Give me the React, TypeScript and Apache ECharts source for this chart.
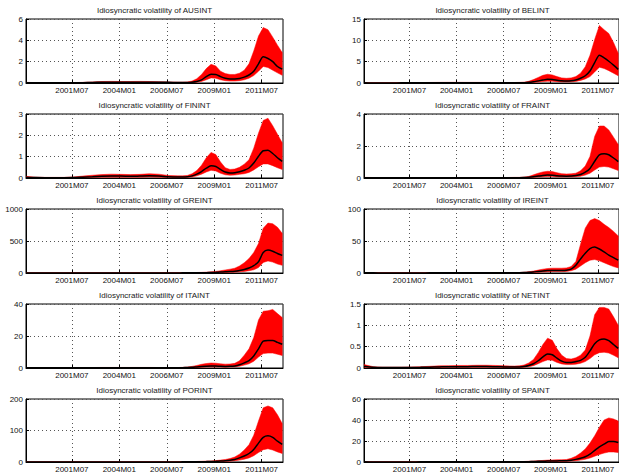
import React, { useEffect, useRef } from "react";
import * as echarts from "echarts";

// Sample dates (month labels) shared by every panel
const periods = [
  "1999M02", "1999M08", "2000M02", "2000M08", "2001M02", "2001M08", "2002M02", "2002M08",
  "2003M02", "2003M08", "2004M02", "2004M08", "2005M02", "2005M08", "2006M02", "2006M08",
  "2007M02", "2007M05", "2007M08", "2007M11", "2008M02", "2008M05", "2008M08", "2008M11",
  "2009M02", "2009M05", "2009M08", "2009M11", "2010M02", "2010M05", "2010M08", "2010M11",
  "2011M02", "2011M05", "2011M08", "2011M11", "2012M02", "2012M05", "2012M08",
];
const tickLabels = ["2001M07", "2004M01", "2006M07", "2009M01", "2011M07"];
const axisStart = "1999M02";
const axisEndMonths = 163.5;

const countries = ["AUSINT", "BELINT", "FININT", "FRAINT", "GREINT", "IREINT", "ITAINT", "NETINT", "PORINT", "SPAINT"];
const yMax = [6, 15, 3, 4, 1000, 100, 40, 1.5, 200, 60];
const yStep = [2, 5, 1, 2, 500, 50, 20, 0.5, 100, 20];

// AUS
const ausHi = [0.06,0.04,0.03,0.03,0.03,0.04,0.06,0.1,0.14,0.15,0.14,0.14,0.15,0.14,0.12,0.1,0.08, 0.08,0.1,0.18,0.4,0.8,1.35,1.75,1.6,1.1,0.88,0.8,0.8,0.92,1.2,1.8,3.0,4.4,5.2,5.0,4.3,3.55,2.85];
const ausMed = [0.03,0.02,0.02,0.02,0.02,0.02,0.03,0.05,0.07,0.08,0.08,0.08,0.08,0.08,0.07,0.06,0.05, 0.04,0.05,0.08,0.15,0.3,0.6,0.82,0.8,0.6,0.45,0.38,0.38,0.42,0.55,0.75,1.1,1.8,2.45,2.3,2.0,1.55,1.3];
const ausLo = [0.01,0.01,0.01,0.01,0.01,0.01,0.01,0.02,0.03,0.03,0.03,0.03,0.03,0.03,0.03,0.02,0.02, 0.02,0.03,0.04,0.08,0.15,0.3,0.48,0.45,0.3,0.22,0.18,0.18,0.22,0.3,0.45,0.7,1.1,1.55,1.45,1.2,0.95,0.72];
// BEL
const belHi = [0.08,0.05,0.05,0.05,0.06,0.08,0.1,0.13,0.15,0.16,0.16,0.15,0.15,0.14,0.13,0.12,0.12, 0.15,0.2,0.4,0.8,1.3,1.8,2.05,1.9,1.5,1.2,1.1,1.2,1.5,2.3,3.8,6.5,10.2,13.5,12.5,11.6,9.5,7.0];
const belMed = [0.04,0.02,0.02,0.02,0.03,0.04,0.05,0.06,0.07,0.08,0.08,0.07,0.07,0.07,0.06,0.06,0.05, 0.05,0.08,0.15,0.3,0.5,0.7,0.85,0.8,0.65,0.5,0.45,0.5,0.7,1.1,1.7,2.8,4.8,6.5,5.9,5.1,4.2,3.2];
const belLo = [0.01,0.01,0.01,0.01,0.01,0.01,0.02,0.02,0.03,0.03,0.03,0.03,0.03,0.03,0.02,0.02,0.02, 0.02,0.03,0.06,0.12,0.22,0.35,0.42,0.4,0.32,0.26,0.24,0.27,0.38,0.6,0.95,1.5,2.6,3.7,3.4,2.9,2.3,1.7];
// FIN
const finHi = [0.08,0.04,0.03,0.03,0.03,0.05,0.09,0.13,0.16,0.18,0.17,0.16,0.17,0.2,0.18,0.12,0.1, 0.1,0.12,0.2,0.35,0.6,0.95,1.2,1.1,0.75,0.48,0.4,0.42,0.5,0.65,0.85,1.4,2.1,2.7,2.8,2.45,2.05,1.65];
const finMed = [0.04,0.02,0.015,0.015,0.015,0.02,0.04,0.06,0.08,0.09,0.09,0.08,0.09,0.1,0.09,0.06,0.05, 0.05,0.06,0.1,0.18,0.3,0.46,0.57,0.54,0.4,0.28,0.24,0.25,0.29,0.36,0.47,0.7,1.02,1.28,1.3,1.15,0.95,0.78];
const finLo = [0.015,0.01,0.005,0.005,0.005,0.01,0.02,0.03,0.04,0.04,0.04,0.04,0.04,0.05,0.04,0.03,0.025, 0.025,0.03,0.05,0.1,0.18,0.28,0.36,0.33,0.22,0.15,0.13,0.14,0.17,0.2,0.26,0.38,0.53,0.66,0.66,0.58,0.48,0.4];
// FRA
const fraHi = [0.04,0.03,0.03,0.03,0.03,0.03,0.03,0.03,0.03,0.03,0.03,0.03,0.03,0.03,0.03,0.03,0.04, 0.04,0.06,0.1,0.2,0.3,0.38,0.42,0.4,0.33,0.27,0.25,0.26,0.3,0.45,0.75,1.35,2.6,3.25,3.25,3.0,2.55,2.1];
const fraMed = [0.02,0.015,0.015,0.015,0.015,0.015,0.015,0.015,0.015,0.015,0.015,0.015,0.015,0.015,0.015,0.015,0.02, 0.02,0.03,0.05,0.08,0.12,0.16,0.18,0.17,0.14,0.12,0.11,0.12,0.15,0.22,0.36,0.6,1.05,1.45,1.52,1.45,1.25,1.02];
const fraLo = [0.01,0.005,0.005,0.005,0.005,0.005,0.005,0.005,0.005,0.005,0.005,0.005,0.005,0.005,0.005,0.005,0.01, 0.01,0.015,0.02,0.04,0.06,0.08,0.09,0.09,0.07,0.06,0.06,0.065,0.08,0.11,0.18,0.3,0.5,0.68,0.72,0.68,0.58,0.47];
// GRE
const greHi = [3,2,2,2,2,2,2,2,2,2,2,2,2,2,2,2,3, 4,5,6,8,10,13,18,25,35,48,60,75,110,160,225,320,460,700,780,770,715,620];
const greMed = [1.5,1,1,1,1,1,1,1,1,1,1,1,1,1,1,1,1.5, 2,2,3,3,4,5,7,10,14,18,22,28,40,56,78,115,175,320,358,340,305,275];
const greLo = [0.5,0.4,0.4,0.4,0.4,0.4,0.4,0.4,0.4,0.4,0.4,0.4,0.4,0.4,0.4,0.4,0.5, 1,1,1,2,2,3,3,4,6,8,10,13,18,25,35,50,85,165,188,170,140,120];
// IRE
const ireHi = [0.6,0.4,0.3,0.3,0.3,0.3,0.3,0.4,0.4,0.5,0.5,0.5,0.5,0.5,0.5,0.5,0.6, 0.8,1.2,2,3,4.5,6,7,7.5,7.5,7.5,8,10,18,45,70,82,85,82,76,71,65,58];
const ireMed = [0.3,0.2,0.15,0.15,0.15,0.15,0.15,0.2,0.2,0.25,0.25,0.25,0.25,0.25,0.25,0.25,0.3, 0.4,0.6,1,1.6,2.5,3.3,3.8,4,4,4,4.3,6,12,22,31,38,40.5,37.5,33,28,24,20];
const ireLo = [0.1,0.08,0.06,0.06,0.06,0.06,0.06,0.08,0.08,0.1,0.1,0.1,0.1,0.1,0.1,0.1,0.12, 0.2,0.3,0.5,0.8,1.2,1.6,2,2.2,2.2,2.2,2.5,3.5,6,11,16,20,21,19,16,13,10,8];
// ITA
const itaHi = [0.3,0.2,0.2,0.2,0.2,0.2,0.25,0.3,0.35,0.35,0.35,0.35,0.35,0.35,0.3,0.3,0.3, 0.4,0.6,1,1.6,2.3,2.8,3.1,3,2.6,2.4,2.5,2.9,4.5,8,12,19,30,35.5,35.8,36.6,34,31.5];
const itaMed = [0.15,0.1,0.1,0.1,0.1,0.1,0.12,0.15,0.17,0.17,0.17,0.17,0.17,0.17,0.15,0.15,0.15, 0.2,0.3,0.45,0.7,0.95,1.15,1.25,1.2,1.05,1,1.05,1.3,2,3.2,4.6,7.5,12,16.8,17.2,17.2,16,14.8];
const itaLo = [0.07,0.05,0.05,0.05,0.05,0.05,0.06,0.07,0.08,0.08,0.08,0.08,0.08,0.08,0.07,0.07,0.07, 0.1,0.15,0.22,0.35,0.5,0.6,0.65,0.62,0.55,0.52,0.55,0.7,1.1,1.8,2.6,4.2,6.8,9,9.3,9.3,8.6,7.8];
// NET
const netHi = [0.08,0.03,0.02,0.02,0.02,0.025,0.03,0.04,0.05,0.055,0.06,0.06,0.065,0.065,0.06,0.05,0.045, 0.05,0.07,0.12,0.2,0.36,0.55,0.7,0.65,0.45,0.3,0.22,0.21,0.24,0.3,0.42,0.75,1.25,1.42,1.42,1.38,1.2,1.0];
const netMed = [0.04,0.015,0.01,0.01,0.01,0.012,0.015,0.02,0.025,0.03,0.03,0.03,0.035,0.035,0.03,0.025,0.022, 0.025,0.035,0.06,0.1,0.17,0.26,0.33,0.31,0.23,0.16,0.13,0.13,0.15,0.18,0.25,0.4,0.57,0.66,0.68,0.64,0.55,0.46];
const netLo = [0.02,0.008,0.005,0.005,0.005,0.006,0.008,0.01,0.012,0.015,0.015,0.015,0.017,0.017,0.015,0.012,0.011, 0.012,0.018,0.03,0.055,0.1,0.15,0.19,0.18,0.13,0.095,0.08,0.08,0.09,0.11,0.15,0.22,0.31,0.36,0.37,0.35,0.3,0.24];
// POR
const porHi = [0.6,0.4,0.4,0.4,0.4,0.4,0.5,0.5,0.6,0.6,0.6,0.6,0.6,0.6,0.6,0.6,0.7, 0.8,1,1.3,1.7,2.2,2.8,3.5,4.5,6,8,11,16,25,38,55,85,130,172,178,172,150,122];
const porMed = [0.3,0.2,0.2,0.2,0.2,0.2,0.25,0.25,0.3,0.3,0.3,0.3,0.3,0.3,0.3,0.3,0.35, 0.4,0.5,0.6,0.8,1,1.3,1.7,2.2,3,4,5.5,8,13,19,27,40,60,78,83,78,66,56];
const porLo = [0.15,0.1,0.1,0.1,0.1,0.1,0.12,0.12,0.15,0.15,0.15,0.15,0.15,0.15,0.15,0.15,0.17, 0.2,0.25,0.3,0.4,0.5,0.7,0.9,1.1,1.5,2,2.7,4,6,9,13,20,30,39,42,38,32,27];
// SPA
const spaHi = [0.3,0.2,0.2,0.2,0.2,0.2,0.25,0.25,0.3,0.3,0.3,0.3,0.3,0.3,0.3,0.3,0.35, 0.4,0.5,0.7,0.9,1.2,1.5,1.8,2,2.1,2.2,2.4,3.5,5.5,8.5,12.5,18,25,33,40,42,41,39];
const spaMed = [0.15,0.1,0.1,0.1,0.1,0.1,0.12,0.12,0.15,0.15,0.15,0.15,0.15,0.15,0.15,0.15,0.17, 0.2,0.25,0.35,0.45,0.6,0.75,0.9,1,1.05,1.1,1.2,1.7,2.5,3.5,5,7.5,11,14.5,17,19.5,19.5,18.5];
const spaLo = [0.07,0.05,0.05,0.05,0.05,0.05,0.06,0.06,0.07,0.07,0.07,0.07,0.07,0.07,0.07,0.07,0.08, 0.1,0.12,0.17,0.22,0.3,0.37,0.45,0.5,0.52,0.55,0.6,0.85,1.25,1.8,2.6,3.8,5.5,7.2,8.5,9.5,9.5,9];

const lows = [ausLo, belLo, finLo, fraLo, greLo, ireLo, itaLo, netLo, porLo, spaLo];
const meds = [ausMed, belMed, finMed, fraMed, greMed, ireMed, itaMed, netMed, porMed, spaMed];
const highs = [ausHi, belHi, finHi, fraHi, greHi, ireHi, itaHi, netHi, porHi, spaHi];

const FONT = "'Liberation Sans', Arial, Helvetica, sans-serif";

const toMonth = (s: string) => (parseInt(s.slice(0, 4), 10) - 1999) * 12 + parseInt(s.slice(5), 10) - 1;
const fmtMonth = (v: number) => {
  const r = Math.round(v);
  const y = 1999 + Math.floor(r / 12);
  const m = (r % 12) + 1;
  return `${y}M${m < 10 ? "0" + m : m}`;
};

function buildOption() {
  const xs = periods.map(toMonth);
  const tickVals = tickLabels.map(toMonth);
  const grids: any[] = [];
  const xAxes: any[] = [];
  const yAxes: any[] = [];
  const series: any[] = [];
  const graphics: any[] = [];
  const gridLine = { show: true, lineStyle: { color: "#555", type: [1, 3], width: 1 } };

  countries.forEach((name, i) => {
    const col = i % 2;
    const row = Math.floor(i / 2);
    const left = col === 0 ? 26 : 364;
    const top = 19 + 95 * row;
    const width = 257;
    const height = 64;
    grids.push({ left, top, width, height, show: true, borderColor: "#000", borderWidth: 1, backgroundColor: "transparent", containLabel: false });
    xAxes.push({
      type: "value",
      gridIndex: i,
      min: toMonth(axisStart),
      max: axisEndMonths,
      axisLine: { show: true, lineStyle: { color: "#000", width: 1 } },
      axisTick: { show: true, inside: true, length: 3, customValues: tickVals, lineStyle: { color: "#000" } },
      axisLabel: { customValues: tickVals, formatter: (v: number) => fmtMonth(v), fontSize: 8, fontFamily: FONT, color: "#111", margin: 3 },
      splitLine: gridLine,
    });
    yAxes.push({
      type: "value",
      gridIndex: i,
      min: 0,
      max: yMax[i],
      interval: yStep[i],
      axisLine: { show: true, lineStyle: { color: "#000", width: 1 } },
      axisTick: { show: true, inside: true, length: 3, lineStyle: { color: "#000" } },
      axisLabel: { formatter: (v: number) => String(v), fontSize: 8, fontFamily: FONT, color: "#111", margin: 3 },
      splitLine: gridLine,
    });
    const lo = lows[i];
    const hi = highs[i];
    const md = meds[i];
    series.push({
      type: "custom",
      xAxisIndex: i,
      yAxisIndex: i,
      silent: true,
      clip: true,
      z: 2,
      data: xs.map((x, k) => [x, lo[k], hi[k]]),
      encode: { x: 0, y: [1, 2] },
      renderItem: (params: any, api: any) => {
        if (params.dataIndex !== 0) return null;
        const pts: number[][] = [];
        for (let k = 0; k < xs.length; k++) pts.push(api.coord([xs[k], hi[k]]));
        for (let k = xs.length - 1; k >= 0; k--) pts.push(api.coord([xs[k], lo[k]]));
        return {
          type: "polygon",
          shape: { points: pts },
          style: { fill: "#ff0000", stroke: "#ff0000", lineWidth: 0.5 },
        };
      },
    });
    series.push({
      type: "line", xAxisIndex: i, yAxisIndex: i, symbol: "none", silent: true, z: 5,
      smooth: 0.25, lineStyle: { color: "#000", width: 1.5 },
      data: xs.map((x, k) => [x, md[k]]),
    });
    graphics.push({
      type: "text",
      x: left + width / 2,
      y: top - 9,
      style: {
        text: "Idiosyncratic volatility of " + name,
        fontSize: 8,
        fontFamily: FONT,
        fill: "#222",
        align: "center",
        verticalAlign: "middle",
        textAlign: "center",
        textVerticalAlign: "middle",
      },
    });
  });

  return {
    animation: false,
    backgroundColor: "#fff",
    grid: grids,
    xAxis: xAxes,
    yAxis: yAxes,
    series,
    graphic: graphics,
  };
}

export default function App() {
  const ref = useRef<HTMLDivElement>(null);
  useEffect(() => {
    if (!ref.current) return;
    const chart = echarts.init(ref.current, undefined, { renderer: "svg" });
    chart.setOption(buildOption() as any);
    return () => chart.dispose();
  }, []);
  return <div ref={ref} style={{ position: "absolute", left: 0, top: 0, width: 619, height: 473 }} />;
}
